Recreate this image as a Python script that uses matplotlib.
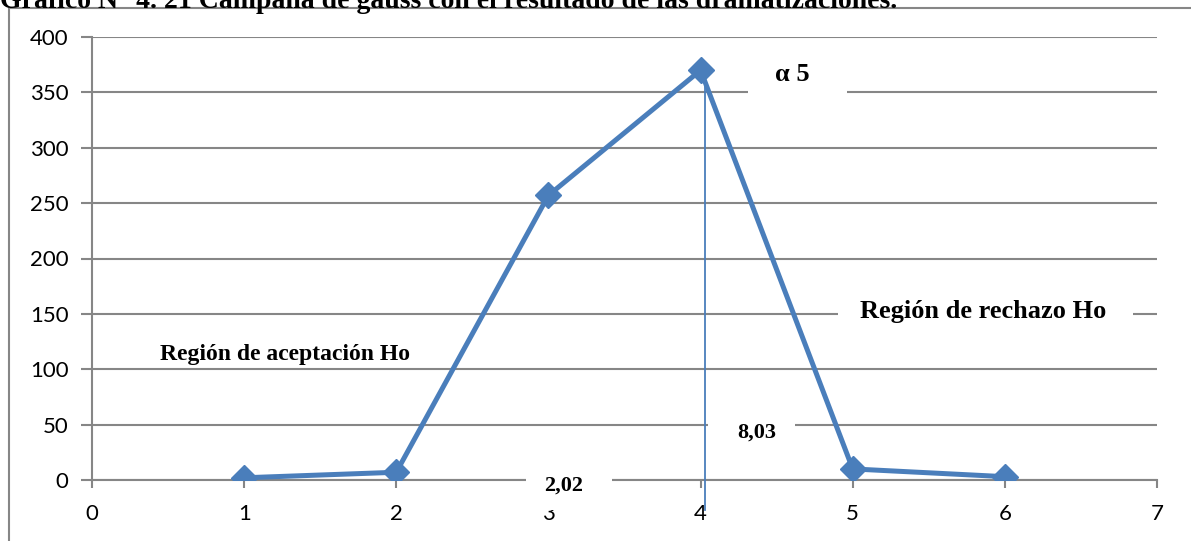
import matplotlib
matplotlib.use("Agg")
import matplotlib.pyplot as plt
from matplotlib.patches import Rectangle

# --------------------------------------------------
# datos

x_vals = [1, 2, 3, 4, 5, 6]
y_vals = [2, 7, 257, 370, 10, 3]
x_ticks = [0, 1, 2, 3, 4, 5, 6, 7]
y_ticks = [0, 50, 100, 150, 200, 250, 300, 350, 400]

titulo = "Gráfico N° 4. 21 Campana de gauss con el resultado de las dramatizaciones."
linea_x = 4.03  # línea vertical del valor crítico

# --------------------------------------------------

gris = "#868686"
azul = "#4a7ebb"
serif = "Liberation Serif"

fig = plt.figure(figsize=(11.91, 5.41), dpi=100)
fig.patch.set_facecolor("white")

# marco del gráfico
fig.patches.append(Rectangle((9 / 1191, -0.1), 1.1, 1 - 8 / 541 + 0.1,
                             transform=fig.transFigure, fill=False,
                             edgecolor=gris, linewidth=1.5))

fig.text(0.0, 1.0 - 1 / 541, titulo, family=serif, weight="bold",
         fontsize=20, ha="left", va="center")

ax = fig.add_axes([92 / 1191, 1 - 480 / 541, (1157 - 92) / 1191, (480 - 37) / 541])
ax.set_xlim(0, 7)
ax.set_ylim(0, 400)
ax.set_xticks(x_ticks)
ax.set_yticks(y_ticks)

for s in ["top", "right"]:
    ax.spines[s].set_visible(False)
for s in ["left", "bottom"]:
    ax.spines[s].set_color(gris)
    ax.spines[s].set_linewidth(1.5)

ax.grid(axis="y", color=gris, linewidth=1.5, zorder=0)
ax.set_axisbelow(True)
ax.tick_params(axis="y", length=8, width=1.5, color=gris, labelsize=16, pad=9)
ax.tick_params(axis="x", length=6, width=1.5, color=gris, labelsize=16, pad=11)
for lab in ax.get_xticklabels() + ax.get_yticklabels():
    lab.set_family("Lato")

ax.plot(x_vals, y_vals, color=azul, linewidth=3.6, marker="D",
        markersize=13, zorder=3)

ax.plot([linea_x, linea_x], [max(y_vals), -27], color=azul, linewidth=1.3,
        zorder=3, clip_on=False)

# cajas blancas de los textos
cajas = [(4.31, 345, 0.65, 40), (4.90, 138, 1.94, 30), (4.05, 35, 0.57, 30),
         (2.85, -27, 0.57, 36)]
for (bx, by, bw, bh) in cajas:
    ax.add_patch(Rectangle((bx, by), bw, bh, facecolor="white",
                           edgecolor="none", zorder=2.6, clip_on=False))

ax.text(4.60, 366, "α 5", family=serif, weight="bold", fontsize=19,
        ha="center", va="center", zorder=4)
ax.text(5.86, 152, "Región de rechazo Ho", family=serif, weight="bold",
        fontsize=19, ha="center", va="center", zorder=4)
ax.text(1.27, 113, "Región de aceptación Ho", family=serif, weight="bold",
        fontsize=17, ha="center", va="center", zorder=4,
        bbox=dict(facecolor="white", edgecolor="none", pad=1))
ax.text(4.37, 43, "8,03", family=serif, weight="bold", fontsize=16,
        ha="center", va="center", zorder=4)
ax.text(3.1, -5, "2,02", family=serif, weight="bold", fontsize=16,
        ha="center", va="center", zorder=4)

fig.savefig("out.png", dpi=100)
